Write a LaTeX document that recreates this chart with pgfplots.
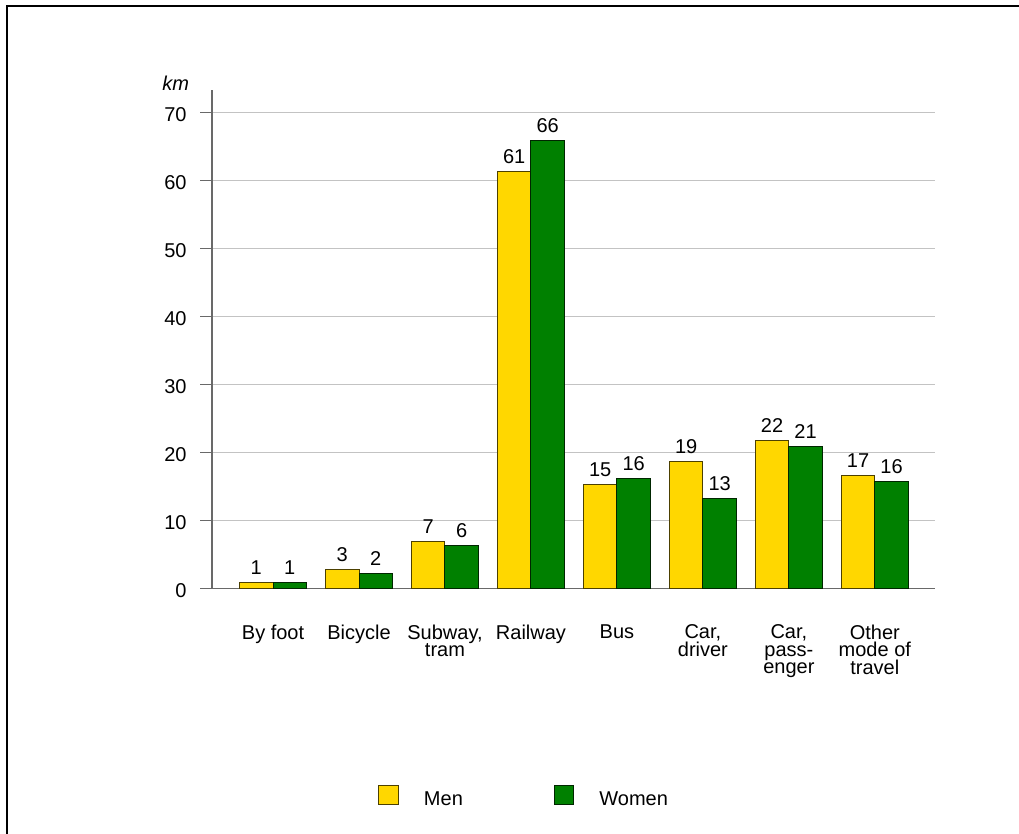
\documentclass[border=0pt]{standalone}
\usepackage{fontspec}
\setmainfont{Liberation Sans}
\usepackage{pgfplots}
\pgfplotsset{compat=1.18}

\definecolor{menyellow}{HTML}{FFD700}
\definecolor{womengreen}{HTML}{008000}
\definecolor{gridgrey}{RGB}{195,195,195}
\definecolor{axisgrey}{RGB}{105,105,105}
\newcommand\chartfont{\fontsize{20}{17.5}\selectfont}

\begin{document}
\begin{tikzpicture}[x=1pt,y=1pt]
% page area and frame
\useasboundingbox (0,0) rectangle (1019,834);
\draw[line width=2pt] (7,0) -- (7,827.7) -- (1019,827.7);

\begin{axis}[
  at={(212pt,245.3pt)}, anchor=south west,
  scale only axis, width=723pt, height=498.7pt,
  xmin=-0.71, xmax=7.70, ymin=0, ymax=73.34,
  ybar=0pt, bar width=33.5pt,
  legend image code/.code={\draw[#1] (0pt,0.7pt) rectangle (19.5pt,20pt);},
  axis x line=bottom, axis y line=left,
  axis line style={-, draw=axisgrey, line width=1.2pt},
  ymajorgrids, grid style={draw=gridgrey, line width=1pt},
  ytick={0,10,...,70},
  tick align=outside,
  ytick style={draw=axisgrey, line width=1.2pt},
  major tick length=12pt,
  xtick={0,...,7},
  x tick style={draw=none},
  xticklabels={By foot, Bicycle, {Subway,\\tram}, Railway, Bus,
    {Car,\\driver}, {Car,\\pass-\\enger}, {Other\\mode of\\travel}},
  xticklabel style={font=\chartfont, align=center, anchor=north,
    inner sep=0pt, yshift=-23.7pt},
  yticklabel style={font=\chartfont, anchor=east, inner sep=0pt,
    xshift=-13.3pt, yshift=-1.5pt},
  /pgf/number format/assume math mode=true,
  /pgf/number format/fixed, /pgf/number format/precision=0,
  nodes near coords,
  nodes near coords style={font=\chartfont, anchor=base, inner sep=0pt,
    yshift=8pt},
  clip=false,
  legend columns=4,
  legend style={at={(0.230,-0.3936)}, anchor=north west, draw=none,
    fill=none, inner sep=0pt, font=\chartfont,
    nodes={inner sep=0pt, anchor=base west},
    /tikz/every odd column/.style={column sep=25pt},
    /tikz/every even column/.style={column sep=91pt}},
]
\addplot[fill=menyellow, draw=black!70!menyellow, line width=1pt]
  coordinates {(0,0.85) (1,2.85) (2,7.0) (3,61.4) (4,15.25) (5,18.7) (6,21.8) (7,16.7)};
\addlegendentry{Men}
\addplot[fill=womengreen, draw=black!70!womengreen, line width=1pt]
  coordinates {(0,0.95) (1,2.3) (2,6.4) (3,65.9) (4,16.2) (5,13.3) (6,20.9) (7,15.8)};
\addlegendentry{Women}
\end{axis}

% unit label above the value axis
\node[anchor=base east, inner sep=0pt, font=\chartfont\itshape] at (189.3,743.3) {km};
\end{tikzpicture}
\end{document}
